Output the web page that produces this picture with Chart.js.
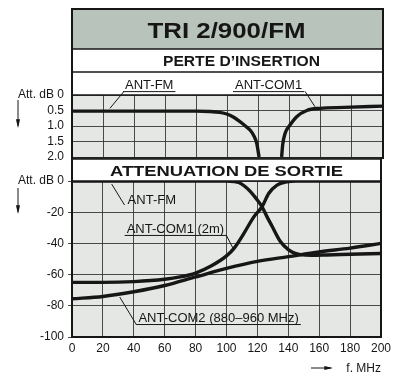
<!DOCTYPE html>
<html lang="fr">
<head>
<meta charset="UTF-8">
<title>TRI 2/900/FM</title>
<style>
  html, body { margin: 0; padding: 0; background: #fff; }
  .wrap { position: relative; width: 395px; height: 374px; }
  .wrap canvas { position: absolute; left: 0; top: 0; }
</style>
</head>
<body>
<div class="wrap">
  <canvas id="lossChart" width="395" height="374"></canvas>
  <canvas id="attChart" width="395" height="374"></canvas>
</div>

<script src="https://cdn.jsdelivr.net/npm/chart.js@4"></script>
<script>
// PERTE D'INSERTION (dB, drawn downwards) vs f (MHz)
const insFmFreq   = [0, 40, 80, 88, 95, 100, 104, 108, 111.5, 114.5, 117, 118.8, 120.3];
const insFmLoss   = [0.52, 0.52, 0.52, 0.53, 0.56, 0.62, 0.72, 0.86, 1.0, 1.13, 1.32, 1.56, 2.0];
const insCom1Freq = [134.8, 135.5, 137, 140.2, 144.5, 151, 159.5, 175, 200];
const insCom1Loss = [2.0, 1.6, 1.24, 0.97, 0.7, 0.5, 0.43, 0.4, 0.36];

// ATTENUATION DE SORTIE (dB)
const attFmFreq   = [0, 40, 80, 100, 105, 108, 112, 115.5, 119, 123, 126, 129.5, 135, 140, 144, 148, 155, 165, 180, 200];
const attFmDb     = [0, 0, 0, 0, -0.3, -1, -3.5, -6.8, -11, -16.5, -22.5, -29, -39, -44, -46.2, -47.2, -47.6, -47.4, -47, -46.5];
const attCom1Freq = [0, 20, 40, 60, 70, 80, 90, 100, 105, 111, 117.7, 123, 127.3, 132.7, 139, 145, 160, 200];
const attCom1Db   = [-65, -65, -64.5, -63, -61.5, -59, -54.5, -48, -43, -34, -23, -16.5, -8, -2.6, -0.5, 0, 0, 0];
const attCom2Freq = [0, 20, 40, 60, 80, 100, 120, 140, 160, 180, 200];
const attCom2Db   = [-75.5, -74, -71, -67, -61.5, -56, -51.5, -48.5, -45.5, -43, -40];

// tick settings
const freqTicks = { min: 0, max: 200, step: 20 };
const lossTicks = { min: 0, max: 2, step: 0.5 };
const attTicks  = { min: -100, max: 0, step: 20 };

const INK = '#161616';
const GRID = 'rgba(45,45,45,0.85)';
const PLOT_BG = '#e5e7e4';
const TITLE_BG = '#b8c4bb';
const FONT = "'Liberation Sans', Arial, Helvetica, sans-serif";

Chart.defaults.font.family = FONT;
Chart.defaults.font.size = 12;
Chart.defaults.color = INK;

const pts = (xs, ys) => xs.map((x, i) => ({ x: x, y: ys[i] }));

function curve(data) {
  return { data: data, borderColor: INK, borderWidth: 3.4, pointRadius: 0, cubicInterpolationMode: 'monotone', fill: false };
}

// label + leader line, positioned in data units
function drawNotes(chart, notes) {
  const ctx = chart.ctx, xs = chart.scales.x, ys = chart.scales.y;
  ctx.save();
  ctx.font = '13px ' + FONT;
  ctx.fillStyle = INK;
  ctx.strokeStyle = INK;
  ctx.lineWidth = 1;
  notes.forEach(n => {
    const tx = xs.getPixelForValue(n.at[0]), ty = ys.getPixelForValue(n.at[1]);
    ctx.fillText(n.text, tx, ty);
    if (n.underline) {
      const w = ctx.measureText(n.text).width;
      ctx.beginPath();
      ctx.moveTo(tx - 2, ty + 2.5);
      ctx.lineTo(tx + w + 2, ty + 2.5);
      ctx.stroke();
    }
    ctx.beginPath();
    ctx.moveTo(xs.getPixelForValue(n.from[0]), ys.getPixelForValue(n.from[1]));
    ctx.lineTo(xs.getPixelForValue(n.to[0]), ys.getPixelForValue(n.to[1]));
    ctx.stroke();
  });
  ctx.restore();
}

function wideText(ctx, text, cx, baseline, font, width) {
  ctx.save();
  ctx.font = font;
  const w = ctx.measureText(text).width;
  ctx.translate(cx, baseline);
  ctx.scale(width / w, 1);
  ctx.textAlign = 'center';
  ctx.fillStyle = INK;
  ctx.fillText(text, 0, 0);
  ctx.restore();
}

function hline(ctx, x1, x2, y, w) {
  ctx.lineWidth = w;
  ctx.beginPath(); ctx.moveTo(x1, y); ctx.lineTo(x2, y); ctx.stroke();
}

function vline(ctx, x, y1, y2, w) {
  ctx.lineWidth = w;
  ctx.beginPath(); ctx.moveTo(x, y1); ctx.lineTo(x, y2); ctx.stroke();
}

function arrow(ctx, x1, y1, x2, y2) {
  const ang = Math.atan2(y2 - y1, x2 - x1);
  ctx.lineWidth = 1;
  ctx.beginPath(); ctx.moveTo(x1, y1); ctx.lineTo(x2, y2); ctx.stroke();
  ctx.beginPath();
  ctx.moveTo(x2 + Math.cos(ang) * 2, y2 + Math.sin(ang) * 2);
  ctx.lineTo(x2 - Math.cos(ang - 0.3) * 7, y2 - Math.sin(ang - 0.3) * 7);
  ctx.lineTo(x2 - Math.cos(ang + 0.3) * 7, y2 - Math.sin(ang + 0.3) * 7);
  ctx.closePath();
  ctx.fill();
}

const plotBg = {
  id: 'plotBg',
  beforeDraw(chart) {
    const a = chart.chartArea, ctx = chart.ctx;
    ctx.save();
    ctx.fillStyle = PLOT_BG;
    ctx.fillRect(a.left, a.top, a.width, a.height);
    ctx.restore();
  }
};

const lossNotes = [
  { text: 'ANT-FM', at: [34.1, -0.19], underline: true, from: [33.5, -0.12], to: [24.4, 0.43] },
  { text: 'ANT-COM1', at: [104.8, -0.19], underline: true, from: [149.8, -0.12], to: [156.3, 0.38] }
];

const attNotes = [
  { text: 'ANT-FM', at: [36, -14.7], underline: false, from: [34, -15.4], to: [25.7, -2] },
  { text: 'ANT-COM1 (2m)', at: [35.4, -33.3], underline: true, from: [99.8, -34.6], to: [104.8, -44.2] },
  { text: 'ANT-COM2 (880\u2013960 MHz)', at: [43, -90.4], underline: true, from: [41.8, -92.3], to: [30.9, -74.4] }
];

const lossFrame = {
  id: 'lossFrame',
  afterDraw(chart) {
    const a = chart.chartArea, ctx = chart.ctx;
    const top = a.top - 86, titleBottom = a.top - 46, perteBottom = a.top - 23;
    ctx.save();
    ctx.fillStyle = TITLE_BG;
    ctx.fillRect(a.left, top, a.width, titleBottom - top);
    ctx.strokeStyle = INK;
    hline(ctx, a.left - 1, a.right + 1, top, 2);
    hline(ctx, a.left, a.right, titleBottom, 1.5);
    hline(ctx, a.left, a.right, perteBottom, 1.5);
    hline(ctx, a.left, a.right, a.top, 1.5);
    hline(ctx, a.left, a.right, a.bottom + 1, 1.5);
    vline(ctx, a.left, top, a.bottom + 2, 2);
    vline(ctx, a.right, top, a.bottom + 2, 2);
    wideText(ctx, 'TRI 2/900/FM', (a.left + a.right) / 2 - 1, top + 28.5, 'bold 22px ' + FONT, 158);
    wideText(ctx, 'PERTE D\u2019INSERTION', (a.left + a.right) / 2 + 14, titleBottom + 16.5, 'bold 14px ' + FONT, 157);
    ctx.fillStyle = INK;
    arrow(ctx, 18, a.top + 5, 18, a.top + 31);
    ctx.restore();
    drawNotes(chart, lossNotes);
  }
};

const attFrame = {
  id: 'attFrame',
  afterDraw(chart) {
    const a = chart.chartArea, ctx = chart.ctx;
    const bandTop = a.top - 22;
    ctx.save();
    ctx.fillStyle = '#fff';
    ctx.fillRect(a.left, bandTop, a.width, 21);
    ctx.strokeStyle = INK;
    hline(ctx, a.left, a.right, bandTop, 1.5);
    hline(ctx, a.left, a.right, a.top, 1.5);
    hline(ctx, a.left - 1, a.right + 1, a.bottom, 2);
    vline(ctx, a.left, bandTop - 2, a.bottom, 2);
    vline(ctx, a.right, bandTop - 2, a.bottom, 2);
    wideText(ctx, 'ATTENUATION DE SORTIE', (a.left + a.right) / 2, a.top - 5, 'bold 15px ' + FONT, 233);
    ctx.fillStyle = INK;
    arrow(ctx, 18, a.top + 7, 18, a.top + 31);
    arrow(ctx, a.right - 70, a.bottom + 31, a.right - 50, a.bottom + 31);
    ctx.font = '12px ' + FONT;
    ctx.textAlign = 'right';
    ctx.fillText('f. MHz', a.right, a.bottom + 35);
    ctx.restore();
    drawNotes(chart, attNotes);
  }
};

new Chart(document.getElementById('lossChart'), {
  type: 'line',
  data: {
    datasets: [
      curve(pts(insFmFreq, insFmLoss)),
      curve(pts(insCom1Freq, insCom1Loss))
    ]
  },
  options: {
    responsive: false,
    animation: false,
    layout: { padding: { top: 95, right: 12, bottom: 217, left: 0 } },
    plugins: { legend: { display: false }, tooltip: { enabled: false } },
    scales: {
      x: {
        type: 'linear', min: freqTicks.min, max: freqTicks.max,
        ticks: { stepSize: freqTicks.step, display: false, autoSkip: false },
        grid: { color: GRID, drawTicks: false },
        border: { display: false },
        afterFit: s => { s.height = 0; }
      },
      y: {
        reverse: true, min: lossTicks.min, max: lossTicks.max,
        ticks: { stepSize: lossTicks.step, padding: 8, autoSkip: false, callback: v => v === 0 ? 'Att. dB 0' : v.toFixed(1) },
        grid: { color: GRID, drawTicks: false },
        border: { display: false },
        afterFit: s => { s.width = 72; }
      }
    }
  },
  plugins: [plotBg, lossFrame]
});

new Chart(document.getElementById('attChart'), {
  type: 'line',
  data: {
    datasets: [
      curve(pts(attFmFreq, attFmDb)),
      curve(pts(attCom1Freq, attCom1Db)),
      curve(pts(attCom2Freq, attCom2Db))
    ]
  },
  options: {
    responsive: false,
    animation: false,
    layout: { padding: { top: 181, right: 12, bottom: 17, left: 0 } },
    plugins: { legend: { display: false }, tooltip: { enabled: false } },
    scales: {
      x: {
        type: 'linear', min: freqTicks.min, max: freqTicks.max,
        ticks: { stepSize: freqTicks.step, padding: 4, maxRotation: 0, autoSkip: false },
        grid: { color: GRID, drawTicks: false },
        border: { display: false },
        afterFit: s => { s.height = 20; }
      },
      y: {
        min: attTicks.min, max: attTicks.max,
        ticks: { stepSize: attTicks.step, padding: 4, autoSkip: false, callback: v => v === 0 ? 'Att. dB 0' : v },
        grid: { color: GRID, drawTicks: true, tickLength: 4 },
        border: { display: false },
        afterFit: s => { s.width = 72; }
      }
    }
  },
  plugins: [plotBg, attFrame]
});
</script>
</body>
</html>
